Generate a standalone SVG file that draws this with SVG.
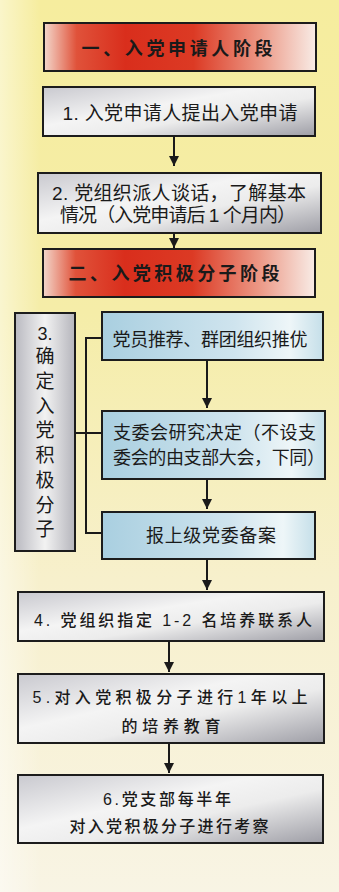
<svg xmlns="http://www.w3.org/2000/svg" width="339" height="892" viewBox="0 0 339 892">
<defs>
<linearGradient id="bg" x1="0" y1="0" x2="0" y2="1">
<stop offset="0" stop-color="#f6ed9e"/>
<stop offset="0.35" stop-color="#f5eda8"/>
<stop offset="0.65" stop-color="#f7f0cc"/>
<stop offset="1" stop-color="#f8f4e4"/>
</linearGradient>
<linearGradient id="bgl" x1="0" y1="0" x2="1" y2="0">
<stop offset="0" stop-color="#ffffff" stop-opacity="0.45"/>
<stop offset="0.12" stop-color="#ffffff" stop-opacity="0"/>
</linearGradient>
<linearGradient id="red" x1="0" y1="0" x2="1" y2="0">
<stop offset="0" stop-color="#f3d8cc"/>
<stop offset="0.12" stop-color="#e0523a"/>
<stop offset="0.3" stop-color="#d92e1c"/>
<stop offset="0.55" stop-color="#dc3a24"/>
<stop offset="0.8" stop-color="#ec9a88"/>
<stop offset="1" stop-color="#f8ece6"/>
</linearGradient>
<linearGradient id="gray" x1="0" y1="0" x2="1" y2="1">
<stop offset="0" stop-color="#c9c9cf"/>
<stop offset="0.4" stop-color="#f4f4f4"/>
<stop offset="0.6" stop-color="#ececec"/>
<stop offset="1" stop-color="#9e9ea6"/>
</linearGradient>
<linearGradient id="blue" x1="0" y1="0" x2="1" y2="0">
<stop offset="0" stop-color="#a9cfe0"/>
<stop offset="0.6" stop-color="#cfe4ee"/>
<stop offset="0.85" stop-color="#eef6f8"/>
<stop offset="1" stop-color="#c5dfe9"/>
</linearGradient>
<linearGradient id="lgray" x1="0" y1="0" x2="1" y2="0">
<stop offset="0" stop-color="#b9b9c0"/>
<stop offset="0.5" stop-color="#f2f2f2"/>
<stop offset="1" stop-color="#b5b5bc"/>
</linearGradient>
<marker id="arr" markerUnits="userSpaceOnUse" markerWidth="11" markerHeight="10" refX="10" refY="5" orient="auto">
<path d="M0,0 L10,5 L0,10 Z" fill="#1a1a1a"/>
</marker>
<style>
.box{stroke:#1c1c1c;stroke-width:2}
.t{font-family:"Liberation Sans","Noto Sans CJK SC",sans-serif;fill:#1a1a1a;text-anchor:middle}
.h{font-size:18px;font-weight:bold}
.n{font-size:19px}
.s{font-size:18px}
.m{font-size:16px;font-weight:500}
.c{stroke:#1a1a1a;stroke-width:2;fill:none}
</style>
</defs>
<rect width="339" height="892" fill="url(#bg)"/>
<rect width="339" height="892" fill="url(#bgl)"/>

<g id="stage1">
<rect class="box" x="44" y="23" width="272" height="48" fill="url(#red)"/>
<text class="t h" x="177" y="55" textLength="191">一、入党申请人阶段</text>
</g>
<g id="step1">
<rect class="box" x="43" y="87" width="272" height="49" fill="url(#gray)"/>
<text class="t n" x="180" y="120" textLength="235">1. 入党申请人提出入党申请</text>
</g>
<g id="step2">
<rect class="box" x="38" y="173" width="283" height="60" fill="url(#gray)"/>
<text class="t n" x="179" y="200" textLength="254">2. 党组织派人谈话，了解基本</text>
<text class="t n" x="178" y="222" textLength="236">情况（入党申请后 1 个月内）</text>
</g>
<g id="stage2">
<rect class="box" x="43" y="249" width="272" height="48" fill="url(#red)"/>
<text class="t h" x="174" y="280" textLength="211">二、入党积极分子阶段</text>
</g>
<g id="step3">
<rect class="box" x="15" y="313" width="60" height="238" fill="url(#lgray)"/>
<text class="t s" x="45" y="340">3.</text>
<text class="t n" x="45" y="363">确</text>
<text class="t n" x="45" y="388">定</text>
<text class="t n" x="45" y="413">入</text>
<text class="t n" x="45" y="437">党</text>
<text class="t n" x="45" y="462">积</text>
<text class="t n" x="45" y="487">极</text>
<text class="t n" x="45" y="512">分</text>
<text class="t n" x="45" y="536">子</text>
</g>
<g id="step3a">
<rect class="box" x="102" y="312" width="221" height="48" fill="url(#blue)"/>
<text class="t s" x="210" y="346" textLength="195">党员推荐、群团组织推优</text>
</g>
<g id="step3b">
<rect class="box" x="102" y="411" width="223" height="68" fill="url(#blue)"/>
<text class="t s" x="113" y="439" style="text-anchor:start" textLength="203">支委会研究决定（不设支</text>
<text class="t s" x="113" y="464" style="text-anchor:start" textLength="212">委会的由支部大会，下同）</text>
</g>
<g id="step3c">
<rect class="box" x="102" y="512" width="213" height="47" fill="url(#blue)"/>
<text class="t s" x="211" y="542" textLength="130">报上级党委备案</text>
</g>
<g id="step4">
<rect class="box" x="18" y="592" width="306" height="49" fill="url(#gray)"/>
<text class="t m" x="173" y="626" textLength="278">4. 党组织指定 1-2 名培养联系人</text>
</g>
<g id="step5">
<rect class="box" x="18" y="674" width="306" height="69" fill="url(#gray)"/>
<text class="t m" x="170" y="703" textLength="275">5.对入党积极分子进行1年以上</text>
<text class="t m" x="171" y="732" textLength="99">的培养教育</text>
</g>
<g id="step6">
<rect class="box" x="18" y="775" width="305" height="68" fill="url(#gray)"/>
<text class="t m" x="167" y="805" textLength="128">6.党支部每半年</text>
<text class="t m" x="169" y="832" textLength="199">对入党积极分子进行考察</text>
</g>

<g id="connectors">
<line class="c" x1="174" y1="136" x2="174" y2="166" marker-end="url(#arr)"/>
<line class="c" x1="174" y1="233" x2="174" y2="248" marker-end="url(#arr)"/>
<line class="c" x1="207" y1="360" x2="207" y2="408" marker-end="url(#arr)"/>
<line class="c" x1="207" y1="479" x2="207" y2="509" marker-end="url(#arr)"/>
<line class="c" x1="207" y1="559" x2="207" y2="590" marker-end="url(#arr)"/>
<line class="c" x1="169" y1="641" x2="169" y2="672" marker-end="url(#arr)"/>
<line class="c" x1="169" y1="743" x2="169" y2="773" marker-end="url(#arr)"/>
<path class="c" d="M102,338 H86 V533 H102"/>
<line class="c" x1="75" y1="433" x2="102" y2="433"/>
</g>
</svg>
